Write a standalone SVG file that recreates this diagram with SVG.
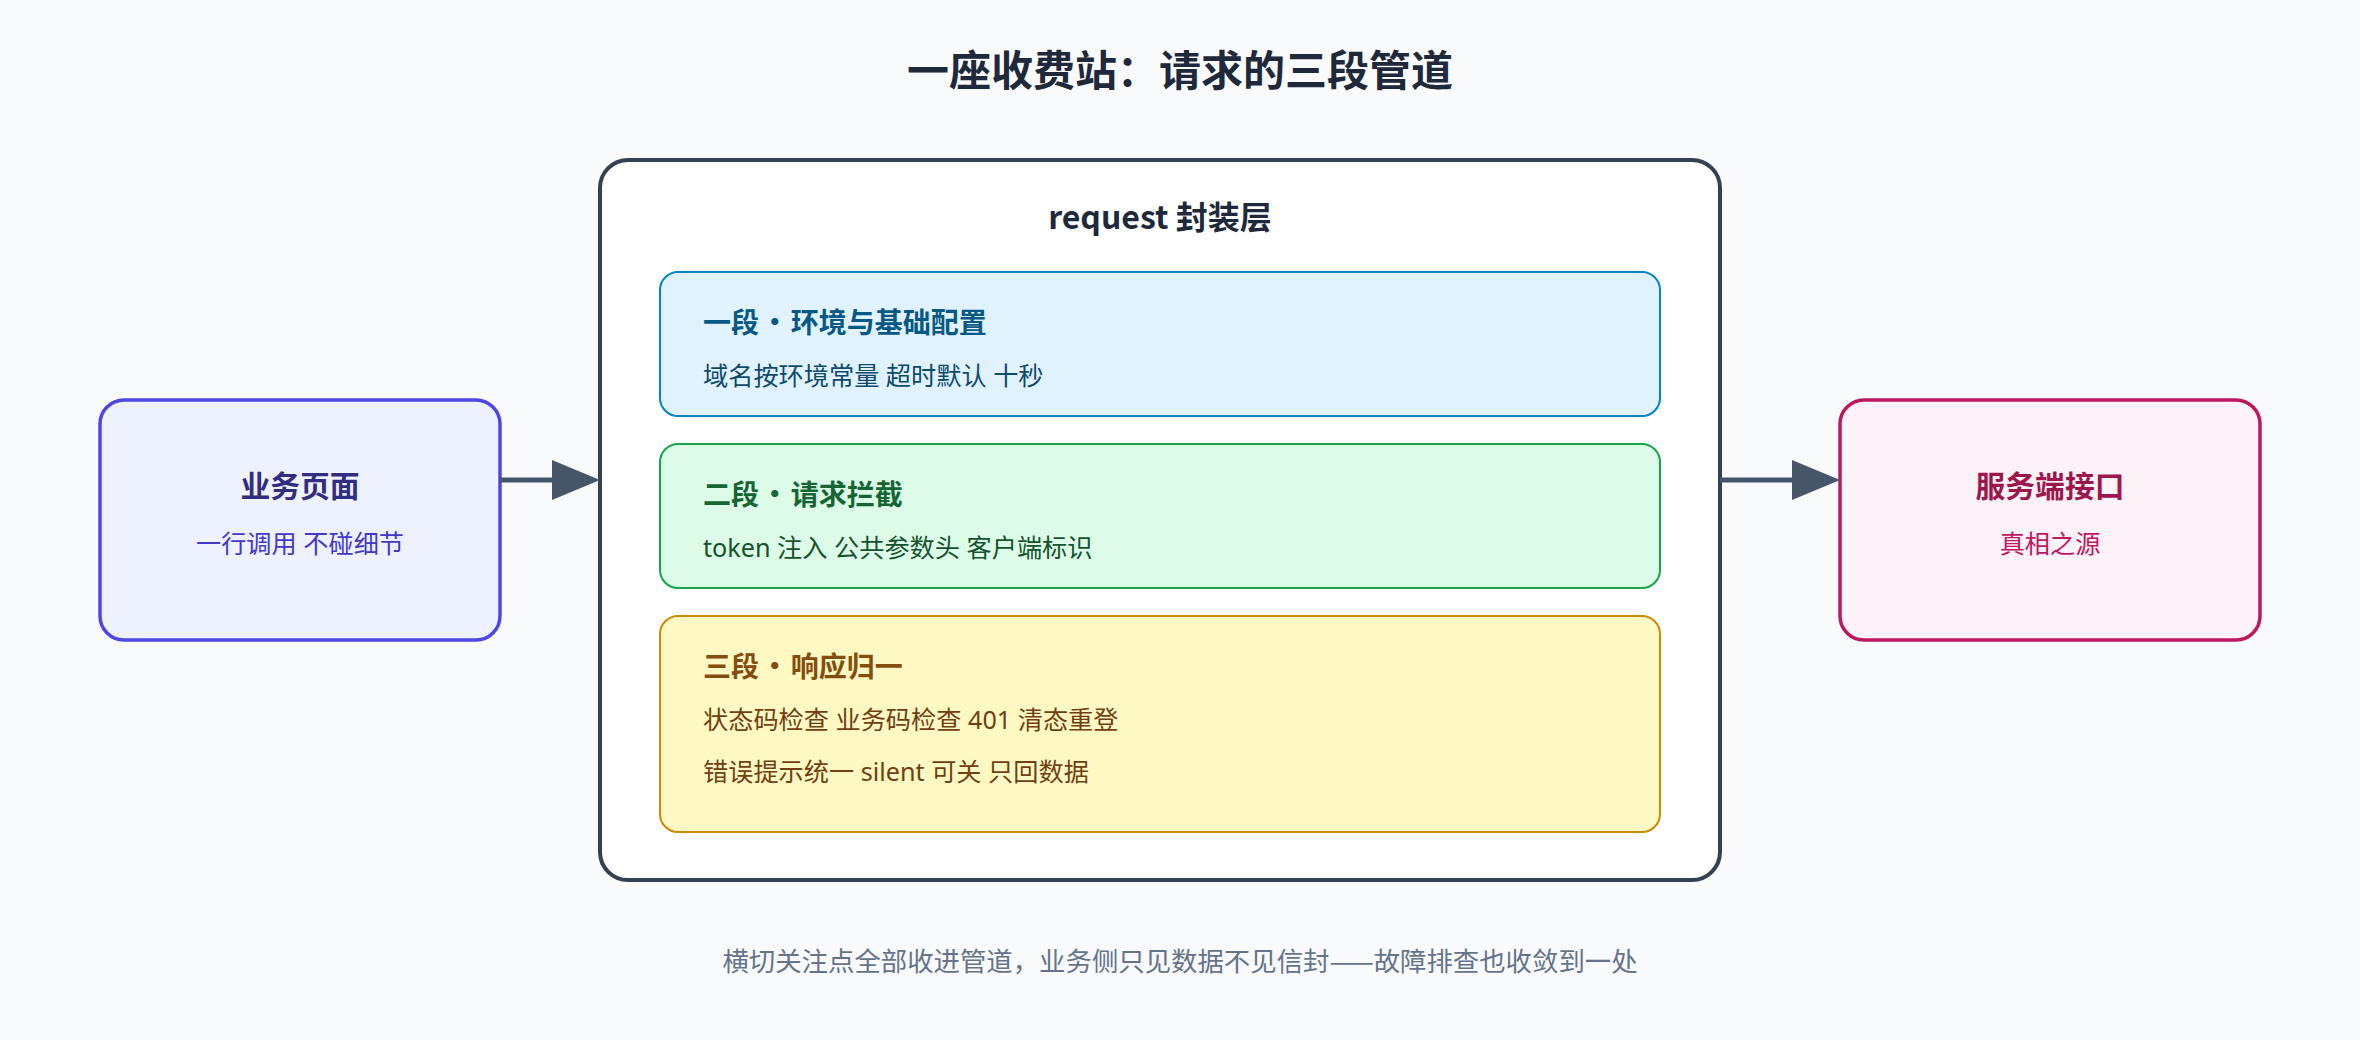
<svg xmlns="http://www.w3.org/2000/svg" width="2360" height="1040" viewBox="0 0 2360 1040">
  <defs>
    <marker id="arrow" markerUnits="userSpaceOnUse" markerWidth="48" markerHeight="40" refX="0" refY="20" orient="auto">
      <path d="M0,0 L48,20 L0,40 Z" fill="#475569"/>
    </marker>
    <style>
      text { font-family: "Noto Sans CJK SC", "Noto Sans", sans-serif; }
      .title { font-size: 42px; font-weight: 700; fill: #1e293b; text-anchor: middle; }
      .footer { font-size: 26.4px; fill: #64748b; text-anchor: middle; }
      .outer { fill: #ffffff; stroke: #334155; stroke-width: 4; }
      .outer-label { font-size: 32px; font-weight: 700; fill: #1e293b; text-anchor: middle; }
      .node-title { font-size: 29.8px; font-weight: 700; text-anchor: middle; }
      .node-sub { font-family: "Noto Sans", "Noto Sans CJK SC", sans-serif; font-size: 25.2px; text-anchor: middle; }
      .stage { stroke-width: 2; }
      .stage-title { font-size: 28px; font-weight: 700; }
      .dot { letter-spacing: -4.5px; }
      .stage-sub { font-family: "Noto Sans", "Noto Sans CJK SC", sans-serif; font-size: 25.2px; }
      .edge { stroke: #475569; stroke-width: 5; fill: none; }
    </style>
  </defs>

  <rect x="0" y="0" width="2360" height="1040" fill="#f8fafc"/>

  <text class="title" x="1180" y="86">一座收费站：请求的三段管道</text>

  <g id="node-page">
    <rect x="100" y="400" width="400" height="240" rx="24" fill="#eef2ff" stroke="#4f46e5" stroke-width="3.5"/>
    <text class="node-title" x="300" y="497" fill="#312e81">业务页面</text>
    <text class="node-sub" x="300" y="553" fill="#4338ca">一行调用 不碰细节</text>
  </g>

  <g id="node-request">
    <rect class="outer" x="600" y="160" width="1120" height="720" rx="28"/>
    <text class="outer-label" x="1160" y="229">request 封装层</text>
  </g>

  <g id="node-stage1">
    <rect class="stage" x="660" y="272" width="1000" height="144" rx="18" fill="#e0f2fe" stroke="#0284c7"/>
    <text class="stage-title" x="703" y="333" fill="#075985">一段<tspan class="dot"> ·</tspan> 环境与基础配置</text>
    <text class="stage-sub" x="703" y="385" fill="#0c4a6e">域名按环境常量 超时默认 十秒</text>
  </g>

  <g id="node-stage2">
    <rect class="stage" x="660" y="444" width="1000" height="144" rx="18" fill="#dcfce7" stroke="#16a34a"/>
    <text class="stage-title" x="703" y="505" fill="#166534">二段<tspan class="dot"> ·</tspan> 请求拦截</text>
    <text class="stage-sub" x="703" y="557" fill="#14532d">token 注入 公共参数头 客户端标识</text>
  </g>

  <g id="node-stage3">
    <rect class="stage" x="660" y="616" width="1000" height="216" rx="18" fill="#fef9c3" stroke="#ca8a04"/>
    <text class="stage-title" x="703" y="677" fill="#854d0e">三段<tspan class="dot"> ·</tspan> 响应归一</text>
    <text class="stage-sub" x="703" y="729" fill="#713f12">状态码检查 业务码检查 401 清态重登</text>
    <text class="stage-sub" x="703" y="781" fill="#713f12">错误提示统一 silent 可关 只回数据</text>
  </g>

  <g id="node-server">
    <rect x="1840" y="400" width="420" height="240" rx="24" fill="#fdf2f8" stroke="#be185d" stroke-width="3.5"/>
    <text class="node-title" x="2050" y="497" fill="#9d174d">服务端接口</text>
    <text class="node-sub" x="2050" y="553" fill="#be185d">真相之源</text>
  </g>

  <g id="connectors">
    <line class="edge" x1="500" y1="480" x2="552" y2="480" marker-end="url(#arrow)"/>
    <line class="edge" x1="1720" y1="480" x2="1792" y2="480" marker-end="url(#arrow)"/>
  </g>

  <text class="footer" x="1180" y="971">横切关注点全部收进管道，业务侧只见数据不见信封——故障排查也收敛到一处</text>
</svg>
